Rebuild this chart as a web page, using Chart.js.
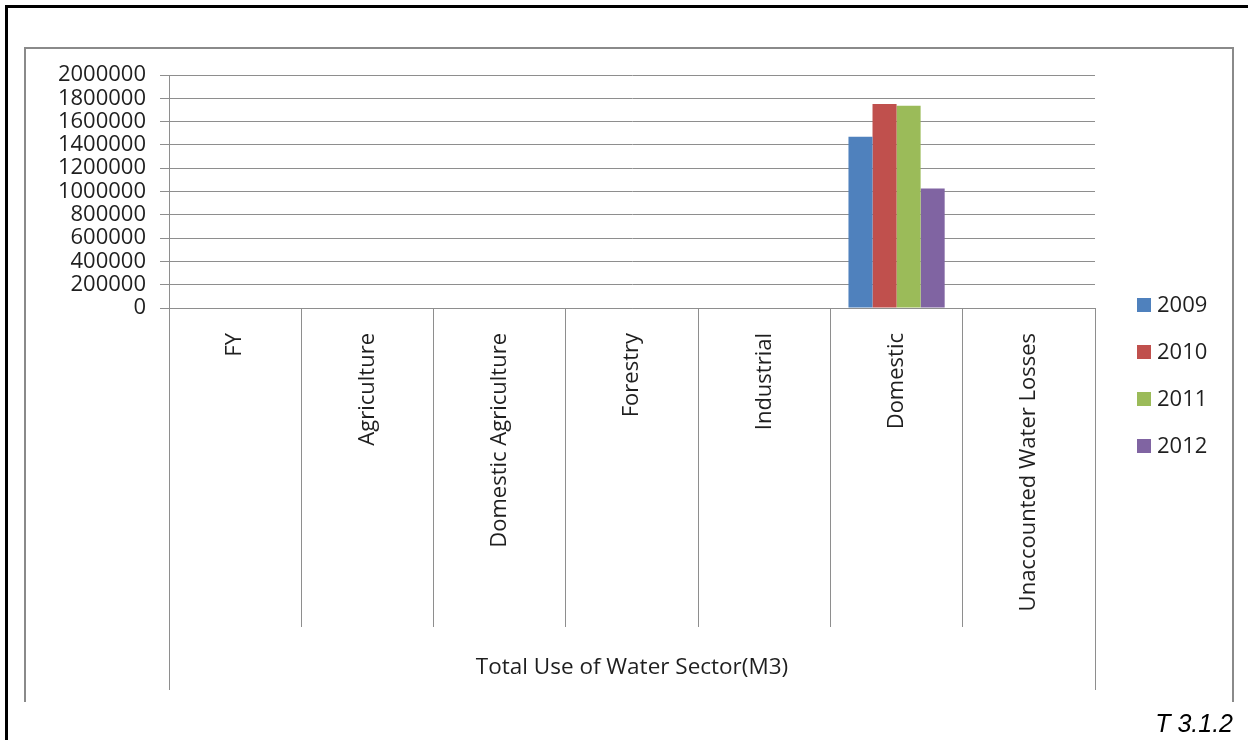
<!DOCTYPE html>
<html>
<head>
<meta charset="utf-8">
<script src="https://cdn.jsdelivr.net/npm/chart.js@4.4.1/dist/chart.umd.min.js"></script>
<style>
    html, body { margin: 0; padding: 0; background: #fff; }
    #wrap { width: 1248px; height: 740px; }
</style>
</head>
<body>
<div id="wrap"><canvas id="water-chart" width="1248" height="740"></canvas></div>
<script>
/* ---- data ---- */
const categories = ['FY', 'Agriculture', 'Domestic Agriculture', 'Forestry', 'Industrial', 'Domestic', 'Unaccounted Water Losses'];
const years = ['2009', '2010', '2011', '2012'];
const use2009 = [null, null, null, null, null, 1470000, null];
const use2010 = [null, null, null, null, null, 1752000, null];
const use2011 = [null, null, null, null, null, 1735000, null];
const use2012 = [null, null, null, null, null, 1025000, null];
const yMin = 0;
const yMax = 2000000;
const yStep = 200000;
const groupLabel = 'Total Use of Water Sector(M3)';
const tableRef = 'T 3.1.2';

/* ---- look ---- */
const THEME = {
    grid: '#8e8e8e',
    text: '#1f1f1f',
    blue: '#4f81bd',
    red: '#c0504d',
    green: '#9bbb59',
    purple: '#8064a2',
};
const FONT = { family: '"Open Sans", sans-serif', size: 22 };
const X_TICK_LEN = 319;   // category separators below the axis

// frame, outer category level, legend and table reference
const excelFrame = {
    id: 'excelFrame',
    beforeDraw(chart) {
        const ctx = chart.ctx;
        ctx.save();
        ctx.fillStyle = '#fff';
        ctx.fillRect(0, 0, chart.width, chart.height);
        ctx.restore();
    },
    afterDraw(chart) {
        const ctx = chart.ctx;
        const xs = chart.scales.x;
        const area = chart.chartArea;
        ctx.save();

        // page border
        ctx.fillStyle = '#000';
        ctx.fillRect(5, 5, 3, chart.height - 5);
        ctx.fillRect(5, 5, chart.width - 5, 3);

        // chart object border (open at the bottom)
        ctx.strokeStyle = '#8a8a8a';
        ctx.lineWidth = 2;
        ctx.beginPath();
        ctx.moveTo(25, 702);
        ctx.lineTo(25, 48);
        ctx.lineTo(1233, 48);
        ctx.lineTo(1233, 702);
        ctx.stroke();

        // outer level of the category axis
        const lowTop = area.bottom + X_TICK_LEN;
        ctx.strokeStyle = THEME.grid;
        ctx.lineWidth = 1;
        ctx.beginPath();
        ctx.moveTo(Math.round(xs.left) + 0.5, lowTop);
        ctx.lineTo(Math.round(xs.left) + 0.5, 690);
        ctx.moveTo(Math.round(xs.right) + 0.5, lowTop);
        ctx.lineTo(Math.round(xs.right) + 0.5, 690);
        ctx.stroke();

        ctx.fillStyle = THEME.text;
        ctx.font = `22.5px ${FONT.family}`;
        ctx.textAlign = 'center';
        ctx.textBaseline = 'middle';
        ctx.fillText(groupLabel, (xs.left + xs.right) / 2, 668);

        // legend
        ctx.font = `${FONT.size}px ${FONT.family}`;
        ctx.textAlign = 'left';
        chart.data.datasets.forEach((ds, i) => {
            const cy = 305 + i * 47;
            ctx.fillStyle = ds.backgroundColor;
            ctx.fillRect(1137, cy - 7, 14, 14);
            ctx.fillStyle = THEME.text;
            ctx.fillText(ds.label, 1157, cy + 1);
        });

        // table reference
        ctx.font = 'italic 25px "Liberation Sans", Arial, sans-serif';
        ctx.textAlign = 'right';
        ctx.textBaseline = 'alphabetic';
        ctx.fillStyle = '#000';
        ctx.fillText(tableRef, 1233, 732);

        ctx.restore();
    },
};

const seriesColors = [THEME.blue, THEME.red, THEME.green, THEME.purple];
const seriesData = [use2009, use2010, use2011, use2012];

new Chart(document.getElementById('water-chart'), {
    type: 'bar',
    data: {
        labels: categories,
        datasets: years.map((y, i) => ({
            label: y,
            data: seriesData[i],
            backgroundColor: seriesColors[i],
            borderWidth: 0,
            categoryPercentage: 4 / 5.5,
            barPercentage: 1,
        })),
    },
    options: {
        responsive: false,
        animation: false,
        devicePixelRatio: 1,
        layout: { padding: { left: 0, top: 75, right: 153, bottom: 113 } },
        plugins: {
            legend: { display: false },
            tooltip: { enabled: false },
        },
        scales: {
            x: {
                grid: { offset: true, drawOnChartArea: false, drawTicks: true, tickLength: X_TICK_LEN, color: THEME.grid, lineWidth: 1 },
                border: { color: THEME.grid, width: 1 },
                ticks: { minRotation: 90, maxRotation: 90, autoSkip: false, padding: 25 - X_TICK_LEN, color: THEME.text, font: FONT },
                afterFit: s => { s.height = X_TICK_LEN; },
            },
            y: {
                min: yMin,
                max: yMax,
                grid: { color: THEME.grid, lineWidth: 1, tickLength: 9 },
                border: { color: THEME.grid, width: 1 },
                ticks: { stepSize: yStep, autoSkip: false, padding: 14, color: THEME.text, font: FONT, callback: v => String(v) },
                afterFit: s => { s.width = 169; },
            },
        },
    },
    plugins: [excelFrame],
});
</script>
</body>
</html>
